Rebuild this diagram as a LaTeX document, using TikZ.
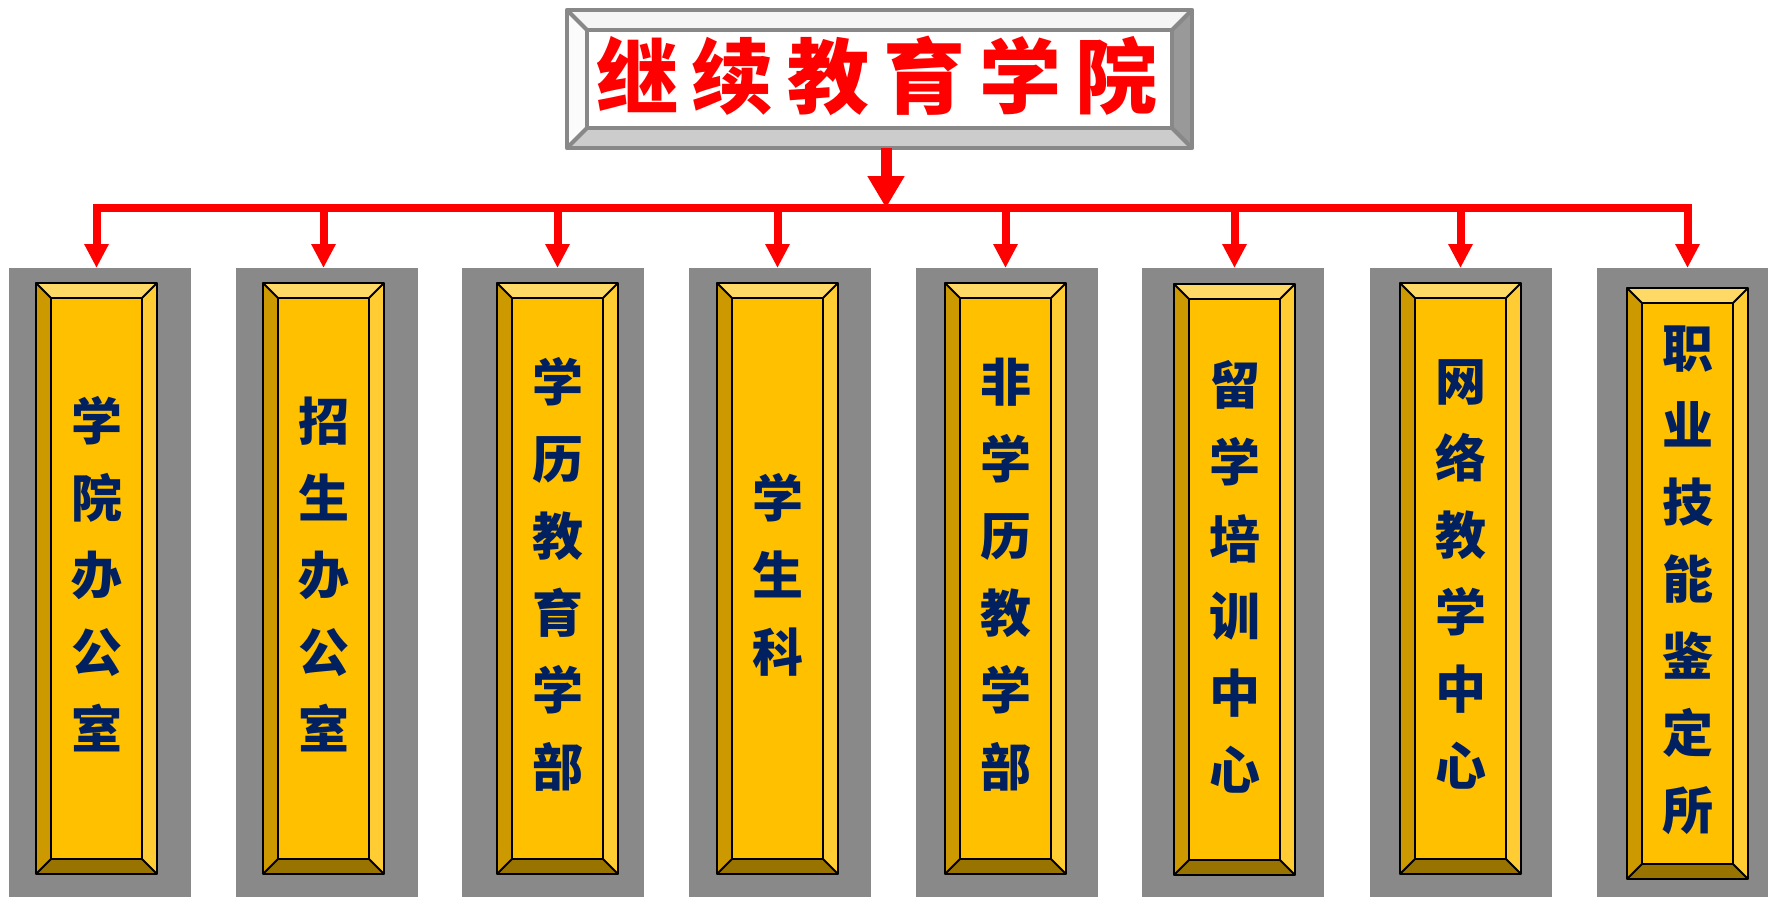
\documentclass[tikz,border=0pt]{standalone}
\usepackage{fontspec}
\newfontfamily\cjk{Noto Sans CJK SC}
\usetikzlibrary{arrows.meta}
\definecolor{bggray}{HTML}{898989}
\definecolor{gface}{HTML}{FFC000}
\definecolor{gtop}{HTML}{FFD966}
\definecolor{gleft}{HTML}{CC9900}
\definecolor{gright}{HTML}{FFCC33}
\definecolor{gbot}{HTML}{997300}
\definecolor{navy}{HTML}{002060}
\definecolor{tborder}{HTML}{888888}
\definecolor{ttop}{HTML}{F5F5F5}
\definecolor{tleft}{HTML}{FBFBFB}
\definecolor{tright}{HTML}{999999}
\definecolor{tbot}{HTML}{CCCCCC}
\newcommand\bevelbox[8]{%
  \fill[#7] (#1.north west) rectangle (#1.south east);
  \fill[#3] (#1.north west) -- (#1.north east) -- ([shift={(-#2,-#2)}]#1.north east) -- ([shift={(#2,-#2)}]#1.north west) -- cycle;
  \fill[#4] (#1.north west) -- ([shift={(#2,-#2)}]#1.north west) -- ([shift={(#2,#2)}]#1.south west) -- (#1.south west) -- cycle;
  \fill[#5] (#1.north east) -- ([shift={(-#2,-#2)}]#1.north east) -- ([shift={(-#2,#2)}]#1.south east) -- (#1.south east) -- cycle;
  \fill[#6] (#1.south west) -- ([shift={(#2,#2)}]#1.south west) -- ([shift={(-#2,#2)}]#1.south east) -- (#1.south east) -- cycle;
  \draw[#8] ([shift={(#2,-#2)}]#1.north west) rectangle ([shift={(-#2,#2)}]#1.south east);
  \draw[#8] (#1.north west) -- ([shift={(#2,-#2)}]#1.north west);
  \draw[#8] (#1.north east) -- ([shift={(-#2,-#2)}]#1.north east);
  \draw[#8] (#1.south west) -- ([shift={(#2,#2)}]#1.south west);
  \draw[#8] (#1.south east) -- ([shift={(-#2,#2)}]#1.south east);
  \draw[#8] (#1.north west) rectangle (#1.south east);
}
\tikzset{
  bg/.style={fill=bggray, minimum height=629pt, inner sep=0pt, anchor=north west},
  gold/.style={minimum width=121pt, minimum height=591pt, inner sep=0pt},
  coltext/.style={font=\cjk\bfseries\fontsize{51}{77}\selectfont, text=navy, align=center, inner sep=0pt},
  redline/.style={draw=red, line width=8pt},
  colarrow/.style={redline, -{Triangle[width=23pt,length=24pt]}},
}
\begin{document}
\begin{tikzpicture}[x=1pt,y=-1pt]
\useasboundingbox[fill=white] (0,0) rectangle (1768,897);
% title
\node[minimum width=625pt, minimum height=138pt, inner sep=0pt] (title) at (879.5,79) {};
\bevelbox{title}{20pt}{ttop}{tleft}{tright}{tbot}{white}{tborder, line width=4pt, line join=round}
\node[font=\cjk\bfseries\fontsize{82}{82}\selectfont, text=red, inner sep=0pt] (ttext) at (877,76) {继\hspace{14pt}续\hspace{14pt}教\hspace{14pt}育\hspace{14pt}学\hspace{14pt}院};
% backgrounds
\node[bg, minimum width=182pt] (g1) at (9,268) {};
\node[bg, minimum width=182pt] (g2) at (236,268) {};
\node[bg, minimum width=182pt] (g3) at (462,268) {};
\node[bg, minimum width=182pt] (g4) at (689,268) {};
\node[bg, minimum width=182pt] (g5) at (916,268) {};
\node[bg, minimum width=182pt] (g6) at (1142,268) {};
\node[bg, minimum width=182pt] (g7) at (1370,268) {};
\node[bg, minimum width=171pt] (g8) at (1597,268) {};
% gold boxes
\node[gold] (b1) at (96.5,578.5) {};
\node[gold] (b2) at (323.5,578.5) {};
\node[gold] (b3) at (557.5,578.5) {};
\node[gold] (b4) at (777.5,578.5) {};
\node[gold] (b5) at (1005.5,578.5) {};
\node[gold] (b6) at (1234.5,579.5) {};
\node[gold] (b7) at (1460.5,578.5) {};
\node[gold] (b8) at (1687.5,583.5) {};
\foreach \i in {1,...,8}{
  \bevelbox{b\i}{15pt}{gtop}{gleft}{gright}{gbot}{gface}{black, line width=2pt, line join=round}
}
% texts
\node[coltext, yshift=4pt] (t1) at (b1) {学\\院\\办\\公\\室};
\node[coltext, yshift=4pt] (t2) at (b2) {招\\生\\办\\公\\室};
\node[coltext, yshift=4pt] (t3) at (b3) {学\\历\\教\\育\\学\\部};
\node[coltext, yshift=4pt] (t4) at (b4) {学\\生\\科};
\node[coltext, yshift=4pt] (t5) at (b5) {非\\学\\历\\教\\学\\部};
\node[coltext, yshift=3pt] (t6) at (b6) {留\\学\\培\\训\\中\\心};
\node[coltext, yshift=4pt] (t7) at (b7) {网\\络\\教\\学\\中\\心};
\node[coltext, yshift=3pt] (t8) at (b8) {职\\业\\技\\能\\鉴\\定\\所};
% connectors
\coordinate (bar) at (0,208);
\draw[redline, line width=11pt, -{Triangle[width=35pt,length=32pt]}] ([xshift=6.5pt]title.south) -- ([xshift=6.5pt]title.south |- bar);
\draw[redline, line cap=rect] (b1.north |- bar) -- (b8.north |- bar);
\foreach \i in {1,...,8}{
  \draw[colarrow] (b\i.north |- bar) -- (b\i.north |- g\i.north);
}
\end{tikzpicture}
\end{document}
